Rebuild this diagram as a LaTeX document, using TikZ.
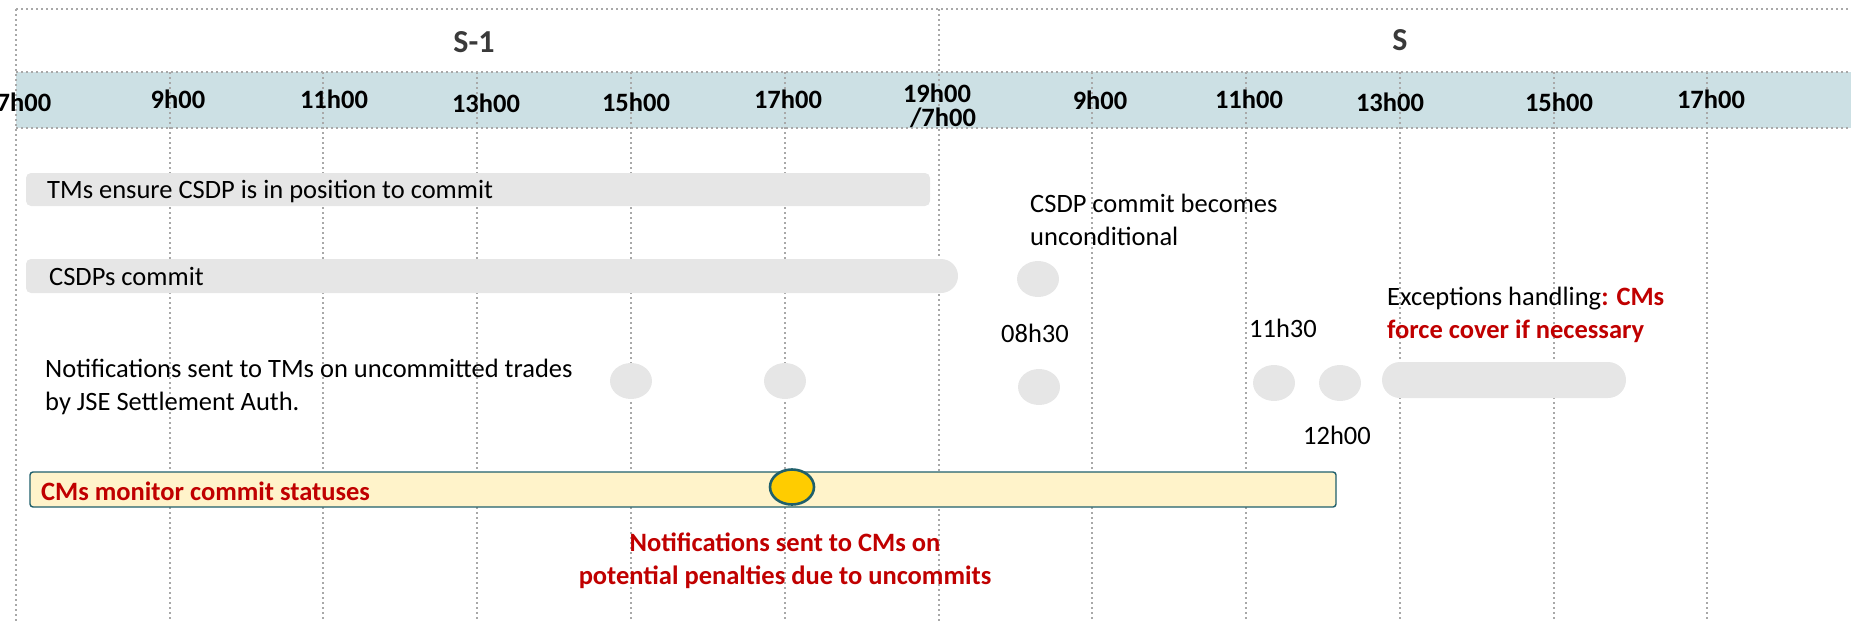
\documentclass[tikz,border=0pt]{standalone}
\usepackage{fontspec}
\setmainfont{Carlito}
\usetikzlibrary{shapes.geometric}

\definecolor{gridgrey}{HTML}{A8A8A8}
\definecolor{bandblue}{HTML}{CCE0E4}
\definecolor{softgrey}{HTML}{E6E6E6}
\definecolor{alertred}{HTML}{C00000}
\definecolor{monfill}{HTML}{FFF3CA}
\definecolor{tealedge}{HTML}{1F5F6B}
\definecolor{gold}{HTML}{FFCC00}
\definecolor{dayink}{HTML}{3A3A3A}

\tikzset{
  gridline/.style={draw=gridgrey, line width=1.8pt, dash pattern=on 1.8pt off 3.2pt},
  hourlbl/.style={font=\fontsize{26.5}{28}\selectfont\bfseries, inner sep=0pt},
  daylbl/.style={font=\fontsize{32}{34}\selectfont\bfseries, text=dayink, inner sep=0pt},
  bodytxt/.style={font=\fontsize{26.5}{32.5}\selectfont, inner sep=0pt, align=left},
  timetxt/.style={font=\fontsize{26.5}{28}\selectfont, inner sep=0pt},
  redtxt/.style={font=\fontsize{26.5}{32.5}\selectfont\bfseries, text=alertred, inner sep=0pt, align=center},
  greydot/.style={ellipse, fill=softgrey, minimum width=42pt, minimum height=36pt, inner sep=0pt},
}

\begin{document}
\begin{tikzpicture}[x=1pt, y=-1pt]
  \useasboundingbox (0,0) rectangle (1851,621);
  \begin{scope}
    \clip (0,0) rectangle (1851,621);

    % hour band
    \fill[bandblue] (16,72) rectangle (1851,128);
    \draw[gridline] (16,72) -- (1851,72);
    \draw[gridline] (16,128) -- (1851,128);
    \draw[gridline] (16,9) -- (1851,9);

    % vertical grid: day borders run full height, hours start at the band
    \draw[gridline] (16,9) -- (16,621);
    \draw[gridline] (939,9) -- (939,621);
    \foreach \gx in {170,323,477,631,785,1092,1246,1400,1554,1707}
      \draw[gridline] (\gx,72) -- (\gx,621);

    % day labels
    \node[daylbl] (dprev) at (474,42) {S-1};
    \node[daylbl] (dcur) at (1400,40) {S};

    % hour labels
    \node[hourlbl] (h7)  at (24,102)  {7h00};
    \node[hourlbl] (h9)  at (178,99)  {9h00};
    \node[hourlbl] (h11) at (334,99)  {11h00};
    \node[hourlbl] (h13) at (486,103) {13h00};
    \node[hourlbl] (h15) at (636,102) {15h00};
    \node[hourlbl] (h17) at (788,99)  {17h00};
    \node[hourlbl] (h19) at (937,93)  {19h00};
    \node[hourlbl] (h7b) at (943,118) {/7h00};
    \node[hourlbl] (s9)  at (1100,100) {9h00};
    \node[hourlbl] (s11) at (1249,99)  {11h00};
    \node[hourlbl] (s13) at (1390,102) {13h00};
    \node[hourlbl] (s15) at (1559,102) {15h00};
    \node[hourlbl] (s17) at (1711,99)  {17h00};

    % activity bars
    \fill[softgrey, rounded corners=5pt] (26,173) rectangle (930,206);
    \node[bodytxt, anchor=west] (tms) at (47,191) {TMs ensure CSDP is in position to commit};

    \fill[softgrey] (31,259) -- (941,259) arc[start angle=90, end angle=-90, radius=17pt]
      -- (31,293) arc[start angle=270, end angle=180, radius=5pt] -- (26,264)
      arc[start angle=180, end angle=90, radius=5pt] -- cycle;
    \node[bodytxt, anchor=west] (csdps) at (49,276) {CSDPs commit};

    \node[bodytxt, anchor=west] (uncond) at (1030,220) {CSDP commit becomes\\unconditional};

    \node[bodytxt, anchor=west] (notif) at (45,387) {Notifications sent to TMs on uncommitted trades\\by JSE Settlement Auth.};

    % notification points
    \node[greydot] (n15) at (631,381) {};
    \node[greydot] (n17) at (785,381) {};
    \node[greydot] (c830) at (1038,279) {};
    \node[greydot] (n830) at (1039,387) {};
    \node[greydot] (n1130) at (1274,383) {};
    \node[greydot] (n1200) at (1340,383) {};

    \node[timetxt] (t830) at (1035,333) {08h30};
    \node[timetxt] (t1130) at (1283,328) {11h30};
    \node[timetxt] (t1200) at (1337,435) {12h00};

    % exceptions
    \fill[softgrey, rounded corners=18pt] (1382,362) rectangle (1626,398);
    \node[bodytxt, anchor=west] (exc) at (1387,315)
      {Exceptions handling\textcolor{alertred}{\bfseries: CMs}\\\textcolor{alertred}{\bfseries force cover if necessary}};

    % monitoring bar
    \draw[tealedge, fill=monfill, line width=1.4pt, rounded corners=3pt] (30,472) rectangle (1336,507);
    \node[redtxt, anchor=west] (mon) at (41,491) {CMs monitor commit statuses};
    \node[ellipse, fill=gold, draw=tealedge, line width=2.6pt, minimum width=44pt, minimum height=35pt, inner sep=0pt] (pen) at (792,487) {};

    \node[redtxt] (pentxt) at (785,561) {Notifications sent to CMs on\\potential penalties due to uncommits};
  \end{scope}
\end{tikzpicture}
\end{document}
